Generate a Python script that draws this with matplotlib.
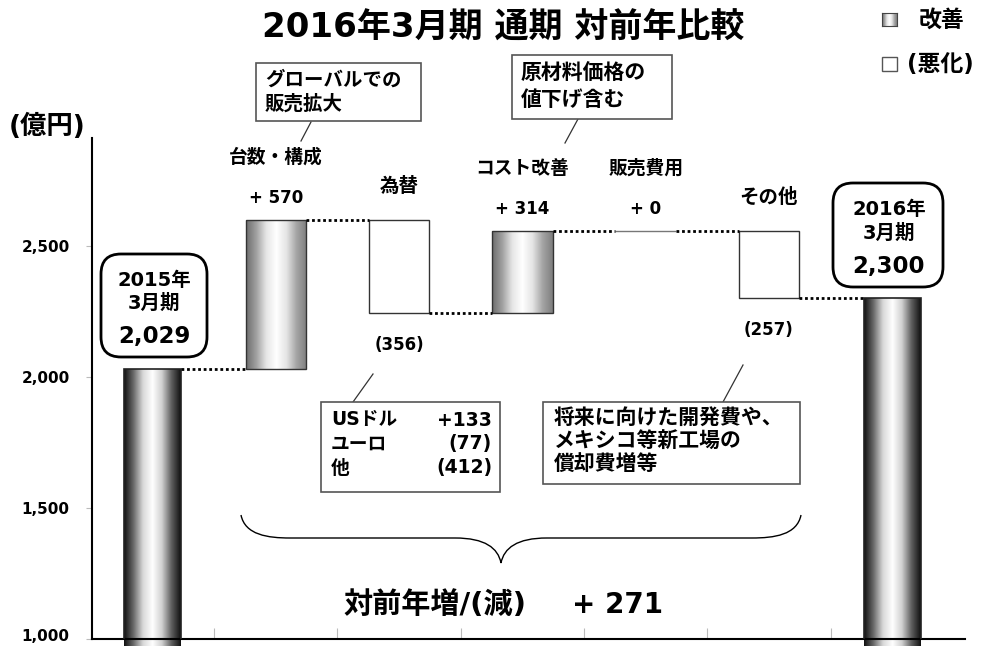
import numpy as np
import matplotlib
matplotlib.use("Agg")
import matplotlib.pyplot as plt
import matplotlib.transforms as mtransforms
from matplotlib.colors import LinearSegmentedColormap
from matplotlib.patches import Rectangle, FancyBboxPatch, PathPatch
from matplotlib.path import Path

plt.rcParams['font.family'] = ['DejaVu Sans', 'Noto Sans CJK JP']
plt.rcParams['font.weight'] = 'bold'

# data (億円)
categories = ['2015年3月期', '台数・構成', '為替', 'コスト改善', '販売費用', 'その他', '2016年3月期']
start_value = 2029
end_value = 2300
deltas = [570, -356, 314, 0, -257]
delta_labels = ['+ 570', '(356)', '+ 314', '+ 0', '(257)']
yticks = [1000, 1500, 2000, 2500]
ytick_labels = ['1,000', '1,500', '2,000', '2,500']

W, H = 981, 646
fig = plt.figure(figsize=(W / 100, H / 100), dpi=100)
T = fig.dpi_scale_trans


def P(x, y):
    # pixel position (from top-left) -> inches for dpi_scale_trans
    return x / 100, (H - y) / 100


def ftext(x, y, s, **kw):
    kw.setdefault('ha', 'center')
    kw.setdefault('va', 'center')
    kw.setdefault('fontweight', 'bold')
    kw.setdefault('zorder', 6)
    fig.text(*P(x, y), s, transform=T, **kw)


ax = fig.add_axes([92 / W, (H - 639) / H, (965 - 92) / W, (639 - 138) / H])

cm_step = LinearSegmentedColormap.from_list(
    'step', ['#6c6c6c', '#a0a0a0', '#e6e6e6', '#ffffff', '#e4e4e4', '#a4a4a4', '#7e7e7e'])
cm_total = LinearSegmentedColormap.from_list(
    'total', ['#101010', '#6a6a6a', '#d8d8d8', '#ffffff', '#d0d0d0', '#606060', '#101010'])
grad = np.linspace(0, 1, 256).reshape(1, -1)

levels = np.concatenate([[start_value], start_value + np.cumsum(deltas)])
xs = np.arange(len(categories))

# totals
tot_bars = ax.bar([xs[0], xs[-1]], [start_value, end_value], width=0.46,
                  facecolor='none', edgecolor='#222222', linewidth=1.2, zorder=3)
for p in tot_bars:
    im = ax.imshow(grad, extent=(p.get_x(), p.get_x() + p.get_width(), 0, p.get_height()),
                   aspect='auto', cmap=cm_total, zorder=2)
    im.set_clip_path(p)

# steps
bottoms = np.minimum(levels[:-1], levels[1:])
heights = np.abs(np.array(deltas))
step_bars = ax.bar(xs[1:-1], heights, bottom=bottoms, width=0.49,
                   facecolor='white', edgecolor='#333333', linewidth=1.0, zorder=3)
for p, d in zip(step_bars, deltas):
    if d > 0:
        p.set_facecolor('none')
        im = ax.imshow(grad, extent=(p.get_x(), p.get_x() + p.get_width(),
                                     p.get_y(), p.get_y() + p.get_height()),
                       aspect='auto', cmap=cm_step, zorder=2)
        im.set_clip_path(p)
    elif d == 0:
        p.set_edgecolor('#777777')

# connectors
widths = [0.46] + [0.49] * len(deltas) + [0.46]
for i in range(len(categories) - 1):
    ax.plot([xs[i] + widths[i] / 2, xs[i + 1] - widths[i + 1] / 2],
            [levels[min(i, len(levels) - 1)]] * 2,
            color='black', linestyle=(0, (1, 1)), linewidth=2, zorder=4)

# labels over the steps
for i, (name, lab, d) in enumerate(zip(categories[1:-1], delta_labels, deltas), start=1):
    top = max(levels[i - 1], levels[i])
    bot = min(levels[i - 1], levels[i])
    if d >= 0:
        ax.annotate(lab, (i, top), xytext=(0, 16), textcoords='offset points',
                    ha='center', va='center', fontsize=12, fontweight='bold')
        ax.annotate(name, (i, top), xytext=(0, 45), textcoords='offset points',
                    ha='center', va='center', fontsize=13.5, fontweight='bold')
    else:
        ax.annotate(lab, (i, bot), xytext=(0, -23), textcoords='offset points',
                    ha='center', va='center', fontsize=12, fontweight='bold')
        ax.annotate(name, (i, top), xytext=(0, 24), textcoords='offset points',
                    ha='center', va='center', fontsize=14, fontweight='bold')

ax.set_xlim(-0.49, 6.59)
ax.set_ylim(1000, 2912)
ax.set_yticks(yticks)
ax.set_yticklabels(ytick_labels, fontsize=11, fontweight='bold')
ax.set_xticks(xs[:-1] + 0.5)
ax.set_xticklabels([])
ax.tick_params(axis='y', length=4, color='#bbbbbb', pad=12)
ax.tick_params(axis='x', direction='in', length=8, color='#bbbbbb')
for s in ['top', 'right']:
    ax.spines[s].set_visible(False)
for s in ['left', 'bottom']:
    ax.spines[s].set_linewidth(1.5)
    ax.spines[s].set_color('black')
# keep the lowest tick label inside the picture
lowest = ax.get_yticklabels()[0]
lowest.set_transform(lowest.get_transform() +
                     mtransforms.ScaledTranslation(0, 3 / 72, fig.dpi_scale_trans))

# title, unit, legend
ftext(503, 28, '2016年3月期 通期 対前年比較', fontsize=24.5)
ftext(47, 127, '(億円)', fontsize=19)
lax = fig.add_axes([882 / W, (H - 26) / H, 15 / W, 13 / H])
lax.imshow(grad, aspect='auto', cmap=cm_step)
lax.set_xticks([])
lax.set_yticks([])
for s in lax.spines.values():
    s.set_color('#444444')
fig.patches.append(Rectangle(P(882, 71), 0.15, 0.14, transform=T, facecolor='white',
                             edgecolor='#555555', linewidth=1))
ftext(919, 20, '改善', fontsize=16.5, ha='left')
ftext(907, 64, '(悪化)', fontsize=16.5, ha='left')


def box(x0, y0, x1, y1, rounded=False):
    if rounded:
        patch = FancyBboxPatch(P(x0, y1), (x1 - x0) / 100, (y1 - y0) / 100,
                               boxstyle='round,pad=0,rounding_size=0.2', transform=T,
                               facecolor='white', edgecolor='black', linewidth=2, zorder=5)
    else:
        patch = Rectangle(P(x0, y1), (x1 - x0) / 100, (y1 - y0) / 100, transform=T,
                          facecolor='white', edgecolor='#555555', linewidth=1.2, zorder=5)
    fig.patches.append(patch)


def line(x0, y0, x1, y1):
    fig.lines.append(plt.Line2D(*zip(P(x0, y0), P(x1, y1)), transform=T,
                                color='#333333', linewidth=0.9))


# rounded total boxes
box(101, 254, 207, 357, rounded=True)
ftext(154, 280, '2015年', fontsize=14)
ftext(154, 303, '3月期', fontsize=14)
ftext(154, 337, '2,029', fontsize=16.5)
box(833, 183, 943, 287, rounded=True)
ftext(889, 210, '2016年', fontsize=14)
ftext(889, 233, '3月期', fontsize=14)
ftext(889, 267, '2,300', fontsize=16.5)

# callouts
box(256, 63, 421, 121)
ftext(265, 80, 'グローバルでの', fontsize=14, ha='left')
ftext(265, 104, '販売拡大', fontsize=14, ha='left')
line(311, 122, 301, 141)

box(512, 55, 672, 119)
ftext(521, 74, '原材料価格の', fontsize=15, ha='left')
ftext(521, 100, '値下げ含む', fontsize=15, ha='left')
line(578, 119, 565, 143)

box(321, 402, 500, 492)
fx_names = ['USドル', 'ユーロ', '他']
fx_values = ['+133', '(77)', '(412)']
for k, (n, v) in enumerate(zip(fx_names, fx_values)):
    ftext(331, 420 + 24 * k, n, fontsize=13.5, ha='left')
    ftext(492, 420 + 24 * k, v, fontsize=13.5, ha='right')
line(353, 402, 373, 374)

box(543, 402, 800, 484)
for k, s in enumerate(['将来に向けた開発費や、', 'メキシコ等新工場の', '償却費増等']):
    ftext(554, 418 + 23.5 * k, s, fontsize=15, ha='left')
line(723, 402, 743, 365)

# brace
verts = [P(241, 515), P(245, 535), P(268, 538), P(290, 538),
         P(455, 538), P(485, 538), P(498, 548), P(501, 563),
         P(504, 548), P(517, 538), P(547, 538),
         P(752, 538), P(774, 538), P(797, 535), P(801, 515)]
codes = [Path.MOVETO, Path.CURVE4, Path.CURVE4, Path.CURVE4,
         Path.LINETO, Path.CURVE4, Path.CURVE4, Path.CURVE4,
         Path.CURVE4, Path.CURVE4, Path.CURVE4,
         Path.LINETO, Path.CURVE4, Path.CURVE4, Path.CURVE4]
fig.patches.append(PathPatch(Path(verts, codes), transform=T, facecolor='none',
                             edgecolor='black', linewidth=1))

ftext(435, 605, '対前年増/(減)', fontsize=21)
ftext(618, 605, '+ 271', fontsize=20)

fig.savefig('out.png', dpi=100)
